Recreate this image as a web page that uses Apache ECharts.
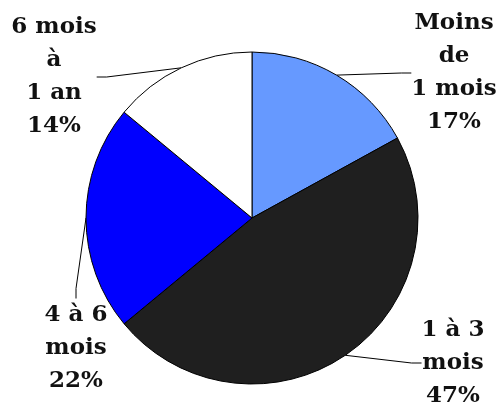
<!DOCTYPE html>
<html><head><meta charset="utf-8">
<script src="https://cdn.jsdelivr.net/npm/echarts@6/dist/echarts.min.js"></script>
<style>html,body{margin:0;padding:0;background:#fff}#c{width:499px;height:404px}</style>
</head><body><div id="c"></div>
<script>
const categories = ['Moins\nde\n1 mois', '1 à 3\nmois', '4 à 6\nmois', '6 mois\nà\n1 an'];
const values = [17, 47, 22, 14];
const colors = ['#6699FF', '#1F1F1F', '#0000FF', '#FFFFFF'];
const labelPos = [
  {x: 454, y: 73},
  {x: 453, y: 363},
  {x: 76, y: 348},
  {x: 54, y: 77}
];
const chart = echarts.init(document.getElementById('c'), null, {renderer: 'canvas'});
chart.setOption({
  animation: false,
  backgroundColor: '#fff',
  series: [{
    type: 'pie',
    center: [252, 218],
    radius: 166,
    startAngle: 90,
    clockwise: true,
    data: categories.map((n, i) => ({name: n, value: values[i], itemStyle: {color: colors[i]}})),
    itemStyle: {borderColor: '#000', borderWidth: 1},
    label: {
      show: true, position: 'outside', overflow: 'none',
      formatter: p => p.name + '\n' + p.value + '%',
      fontFamily: 'DejaVu Serif', fontWeight: 'bold', fontSize: 23, lineHeight: 33,
      color: '#111', align: 'center'
    },
    labelLine: {show: true, lineStyle: {color: '#000', width: 1}, length: 10, length2: 10},
    labelLayout: p => {
      const l = labelPos[p.dataIndex];
      return {x: l.x, y: l.y, align: 'center', verticalAlign: 'middle'};
    },
    emphasis: {disabled: true}
  }]
});
</script></body></html>
